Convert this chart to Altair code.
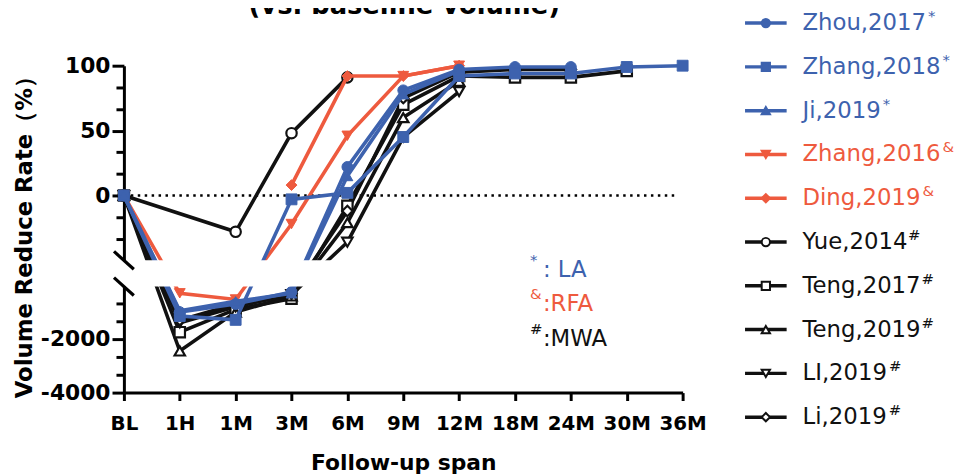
import altair as alt
import pandas as pd

# ---------------- data ----------------
periods = ["BL", "1H", "1M", "3M", "6M", "9M", "12M", "18M", "24M", "30M", "36M"]

studies = ["Zhou,2017", "Zhang,2018", "Ji,2019", "Zhang,2016", "Ding,2019",
           "Yue,2014", "Teng,2017", "Teng,2019", "LI,2019", "Li,2019"]
study_sup = ["*", "*", "*", "&", "&", "#", "#", "#", "#", "#"]
study_group = ["LA", "LA", "LA", "RFA", "RFA", "MWA", "MWA", "MWA", "MWA", "MWA"]
study_shape = ["circle", "square", "triangle-up", "triangle-down", "diamond",
               "circle", "square", "triangle-up", "triangle-down", "diamond"]

N = None
zhou_2017 = [0, -1000, -700, -250, 22, 81, 97, 99, 99, N, N]
zhang_2018 = [0, -1150, -1290, -3, 2, 45, 92, 94, 94, 99, 100]
ji_2019 = [0, -950, -600, -300, 15, 78, 96, N, N, N, N]
zhang_2016 = [0, -300, -530, -22, 46, 92, 100, N, N, N, N]
ding_2019 = [N, N, N, 8, 92, 92, 100, N, N, N, N]
yue_2014 = [0, N, -28, 48, 91, N, N, N, N, N, N]
teng_2017 = [0, -1750, -900, -500, -8, 70, 92, 91, 91, 96, N]
teng_2019 = [0, -2450, -1000, -400, -21, 60, 88, N, N, N, N]
li_2019a = [0, -1400, -800, -350, -36, 45, 80, N, N, N, N]
li_2019b = [0, -1300, -700, -300, -12, 75, 95, 97, 97, N, N]
series = [zhou_2017, zhang_2018, ji_2019, zhang_2016, ding_2019,
          yue_2014, teng_2017, teng_2019, li_2019a, li_2019b]

group_names = ["LA", "RFA", "MWA"]
group_labels = [": LA", ":RFA", ":MWA"]
group_syms = ["*", "&", "#"]

BLUE = "#3d62ae"
RED = "#ee5a3e"
BLACK = "#111111"
group_colors = {"LA": BLUE, "RFA": RED, "MWA": BLACK}

title_text = "(vs. baseline volume)"
y_title = "Volume Reduce Rate（%）"
x_title = "Follow-up span"

# ---------------- broken axis geometry ----------------
W = 564
L_H = 107.0     # lower segment (-4000 .. -50) height px
GAP = 26.5      # gap between segments
U_H = 196.5     # upper segment (-50 .. 100) height px
H = L_H + GAP + U_H
BREAK = -50


def yt(v):
    if v >= BREAK:
        return L_H + GAP + (v - BREAK) * U_H / (100 - BREAK)
    return (v + 4000) * L_H / (BREAK + 4000)


yexpr = (f"datum.value >= {BREAK} ? {L_H + GAP} + (datum.value - ({BREAK})) * {U_H / (100 - BREAK)}"
         f" : (datum.value + 4000) * {L_H / (BREAK + 4000)}")

major_vals = [100, 50, 0, -2000, -4000]
minor_vals = [250 / 3, 200 / 3, 100 / 3, 50 / 3, -50 / 3, -100 / 3,
              -2000 / 3, -4000 / 3, -8000 / 3, -10000 / 3]
tick_pos = [yt(v) for v in major_vals + minor_vals]

label_expr = ""
for v in major_vals:
    label_expr += f"abs(datum.value - {yt(v):.4f}) < 0.01 ? '{v}' : "
label_expr += "''"
major_test = " || ".join(f"abs(datum.value - {yt(v):.4f}) < 0.01" for v in major_vals)

rows = []
for s, sup, g, arr in zip(studies, study_sup, study_group, series):
    for j, v in enumerate(arr):
        if v is not None:
            rows.append({"study": s, "group": g, "idx": j, "value": v})
df = pd.DataFrame(rows)

FONT = "DejaVu Sans"

xax = alt.Axis(values=list(range(len(periods))),
               labelExpr="[" + ",".join(f"'{p}'" for p in periods) + "][datum.value]",
               title=x_title, titleFontSize=22, titleFontWeight="bold", titleFont=FONT,
               titleColor="black", titlePadding=20,
               labelFontSize=20, labelFontWeight="bold", labelFont=FONT, labelColor="black",
               labelFlush=False, labelPadding=13, tickSize=8, tickWidth=3, tickColor="black",
               domainWidth=3, domainColor="black", grid=False)
yax = alt.Axis(values=tick_pos, labelExpr=label_expr,
               title=y_title, titleFontSize=23, titleFontWeight="bold", titleFont=FONT,
               titleColor="black", titleX=-88, titleY=167,
               labelFontSize=22, labelFontWeight="bold", labelFont=FONT, labelColor="black",
               labelPadding=2,
               tickSize={"condition": {"test": major_test, "value": 12}, "value": 8},
               tickWidth=3, tickColor="black",
               domainWidth=3, domainColor="black", grid=False)

X = alt.X("idx:Q", scale=alt.Scale(domain=[0, len(periods) - 1], nice=False, zero=False), axis=xax)
Y = alt.Y("yt:Q", scale=alt.Scale(domain=[0, H], nice=False, zero=False), axis=yax)

shape_scale = alt.Scale(domain=studies, range=study_shape)

base = alt.Chart(df).transform_calculate(yt=yexpr)

layers = []
# dotted zero line
zero_df = pd.DataFrame({"value": [0]})
layers.append(
    alt.Chart(zero_df).transform_calculate(yt=yexpr)
    .mark_rule(strokeDash=[2.5, 4.5], strokeWidth=2.5, color="black")
    .encode(y=Y, x=alt.value(0), x2=alt.value(W - 6))
)

for g in ["MWA", "RFA", "LA"]:
    c = group_colors[g]
    sub = base.transform_filter(alt.datum.group == g)
    layers.append(
        sub.mark_line(strokeWidth=3.6, color=c).encode(x=X, y=Y, detail="study:N")
    )
    if g == "MWA":
        pts = sub.mark_point(filled=True, fill="white", stroke=c, strokeWidth=2.2, size=110, opacity=1)
    else:
        pts = sub.mark_point(filled=True, fill=c, stroke=c, strokeWidth=1, size=120, opacity=1)
    layers.append(pts.encode(x=X, y=Y, shape=alt.Shape("study:N", scale=shape_scale, legend=None)))

# white band hiding the axis gap, then break marks
layers.append(
    alt.Chart(zero_df).mark_rect(color="white")
    .encode(x=alt.value(-20), x2=alt.value(W + 12), y=alt.value(H - L_H - GAP), y2=alt.value(H - L_H))
)
for yy in [H - L_H - GAP, H - L_H]:
    layers.append(
        alt.Chart(zero_df).mark_rule(strokeWidth=3.2, color="black")
        .encode(x=alt.value(-10), x2=alt.value(10), y=alt.value(yy - 9), y2=alt.value(yy + 9))
    )

# chart title (top cut off like the reference)
layers.append(
    alt.Chart(pd.DataFrame({"t": [title_text]}))
    .mark_text(fontSize=26, fontWeight="bold", font=FONT, color="black", baseline="alphabetic", align="center")
    .encode(text="t:N", x=alt.value(283), y=alt.value(-52))
)

# legend
char_w = {"Z": .685, "h": .634, "o": .612, "u": .634, ",": .318, "a": .613, "n": .634, "g": .635,
          "J": .295, "i": .278, "D": .770, "Y": .611, "e": .615, "T": .611, "L": .557, "I": .295}
kern = {"Te": -0.22, "Yu": -0.18}
leg_rows = []
for i, (s, sup, g) in enumerate(zip(studies, study_sup, study_group)):
    em = sum(char_w.get(ch, .636) for ch in s) + sum(k for p, k in kern.items() if p in s)
    leg_rows.append({"study": s, "sup": sup, "group": g, "i": i, "w": em * 23})
leg = pd.DataFrame(leg_rows)
col_scale = alt.Scale(domain=group_names, range=[BLUE, RED, BLACK])
fill_scale = alt.Scale(domain=group_names, range=[BLUE, RED, "white"])
legbase = alt.Chart(leg).transform_calculate(ly="-43 + datum.i * 44.2", sx="687 + datum.w")
LY = alt.Y("ly:Q", scale=None, axis=None)
layers.append(
    legbase.mark_rule(strokeWidth=3.5)
    .encode(x=alt.value(627), x2=alt.value(669), y=LY,
            color=alt.Color("group:N", scale=col_scale, legend=None))
)
layers.append(
    legbase.mark_point(filled=True, size=70, strokeWidth=2, opacity=1)
    .encode(x=alt.value(648), y=LY,
            shape=alt.Shape("study:N", scale=shape_scale, legend=None),
            fill=alt.Fill("group:N", scale=fill_scale, legend=None),
            stroke=alt.Stroke("group:N", scale=col_scale, legend=None))
)
layers.append(
    legbase.mark_text(fontSize=23, font=FONT, align="left", baseline="middle")
    .encode(x=alt.value(685), y=LY, text="study:N",
            color=alt.Color("group:N", scale=col_scale, legend=None))
)
layers.append(
    legbase.mark_text(fontSize=15, font=FONT, align="left", baseline="middle", dy=-7)
    .encode(x=alt.X("sx:Q", scale=None, axis=None), y=LY, text="sup:N",
            color=alt.Color("group:N", scale=col_scale, legend=None))
)

# method annotation
ann = pd.DataFrame({"group": group_names, "lab": group_labels, "sym": group_syms, "i": [0, 1, 2]})
annbase = alt.Chart(ann).transform_calculate(ay="213 + datum.i * 35")
AY = alt.Y("ay:Q", scale=None, axis=None)
layers.append(
    annbase.mark_text(fontSize=23, font=FONT, align="left", baseline="alphabetic")
    .encode(x=alt.value(423), y=AY, text="lab:N",
            color=alt.Color("group:N", scale=col_scale, legend=None))
)
layers.append(
    annbase.mark_text(fontSize=15, font=FONT, align="left", baseline="alphabetic", dy=-12)
    .encode(x=alt.value(410), y=AY, text="sym:N",
            color=alt.Color("group:N", scale=col_scale, legend=None))
)

chart = (
    alt.layer(*layers)
    .properties(width=W, height=H, padding={"left": 5, "top": -17, "right": 5, "bottom": 5})
    .configure_view(strokeWidth=0)
)

chart.save("out.html", embed_options={"renderer": "svg", "actions": False})
